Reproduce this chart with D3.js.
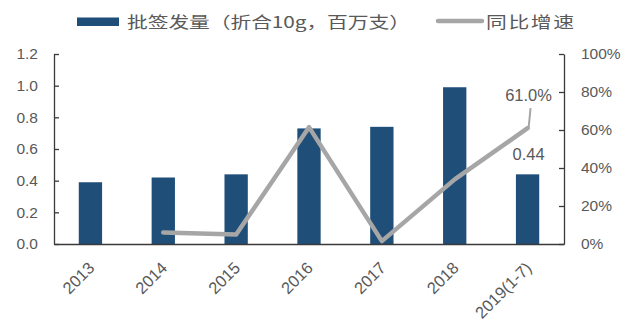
<!DOCTYPE html>
<html>
<head>
<meta charset="utf-8">
<script src="https://cdn.jsdelivr.net/npm/d3@7/dist/d3.min.js"></script>
<style>
  html, body { margin: 0; padding: 0; background: #fff; }
  svg { display: block; }
  .tick text { font-family: "Liberation Sans", Arial, sans-serif; }
</style>
</head>
<body>
<svg id="chart" width="626" height="321"></svg>
<script>
// Vaccine lot release volume (million doses, 10g equivalent) and YoY growth
const categories = ["2013", "2014", "2015", "2016", "2017", "2018", "2019(1-7)"];
const volume = [0.39, 0.42, 0.44, 0.73, 0.74, 0.99, 0.44];
const growth = [null, 0.06, 0.05, 0.615, 0.015, 0.34, 0.61];
const leftTicks = [0, 0.2, 0.4, 0.6, 0.8, 1.0, 1.2];
const rightTicks = [0, 0.2, 0.4, 0.6, 0.8, 1.0];
const seriesNames = ["批签发量（折合10g，百万支）", "同比增速"];

const barColor = "#1f4e79";
const lineColor = "#a6a6a6";
const textColor = "#595959";
const axisColor = "#3a3a3a";

const svg = d3.select("#chart");
const plot = { left: 54, right: 564, top: 54, bottom: 244 };

const x = d3.scaleBand()
  .domain(categories)
  .range([plot.left, plot.right])
  .paddingInner(0.68)
  .paddingOuter(0.34);

const yLeft = d3.scaleLinear().domain([0, 1.2]).range([plot.bottom, plot.top]);
const yRight = d3.scaleLinear().domain([0, 1.0]).range([plot.bottom, plot.top]);

// Bars
svg.append("g")
  .selectAll("rect")
  .data(categories)
  .join("rect")
  .attr("x", d => x(d))
  .attr("width", x.bandwidth())
  .attr("y", (d, i) => yLeft(volume[i]))
  .attr("height", (d, i) => yLeft(0) - yLeft(volume[i]))
  .attr("fill", barColor);

// Left axis
const leftAxis = svg.append("g")
  .attr("transform", `translate(${plot.left},0)`)
  .call(d3.axisLeft(yLeft).tickValues(leftTicks).tickFormat(d3.format(".1f"))
    .tickSizeInner(-5).tickSizeOuter(0).tickPadding(16));
leftAxis.select(".domain").attr("stroke", axisColor).attr("stroke-width", 1.3);
leftAxis.selectAll(".tick line").attr("stroke", axisColor).attr("stroke-width", 1.3);
leftAxis.selectAll(".tick text").attr("fill", textColor).attr("font-size", 15.5);

// Right axis
const rightAxis = svg.append("g")
  .attr("transform", `translate(${plot.right},0)`)
  .call(d3.axisRight(yRight).tickValues(rightTicks).tickFormat(d3.format(".0%"))
    .tickSizeInner(-5).tickSizeOuter(0).tickPadding(17));
rightAxis.select(".domain").attr("stroke", axisColor).attr("stroke-width", 1.3);
rightAxis.selectAll(".tick line").attr("stroke", axisColor).attr("stroke-width", 1.3);
rightAxis.selectAll(".tick text").attr("fill", textColor).attr("font-size", 15.5);

// Bottom axis with rotated category labels
const bottomAxis = svg.append("g")
  .attr("transform", `translate(0,${plot.bottom})`)
  .call(d3.axisBottom(x).tickSize(0).tickPadding(0));
bottomAxis.select(".domain").attr("stroke", axisColor).attr("stroke-width", 1.3);
bottomAxis.selectAll(".tick text")
  .attr("fill", textColor)
  .attr("font-size", 16.5)
  .attr("text-anchor", "end")
  .attr("dy", 0)
  .attr("y", 0)
  .attr("transform", "translate(5,25) rotate(-45)");

// Growth line
const cx = d => x(d) + x.bandwidth() / 2;
const lineData = categories.map((c, i) => ({ c, v: growth[i] })).filter(d => d.v !== null);
svg.append("path")
  .datum(lineData)
  .attr("fill", "none")
  .attr("stroke", lineColor)
  .attr("stroke-width", 4.5)
  .attr("stroke-linejoin", "round")
  .attr("stroke-linecap", "round")
  .attr("d", d3.line().x(d => cx(d.c)).y(d => yRight(d.v)));

// Data labels for the last period
const last = categories.length - 1;
const lx = cx(categories[last]);
const ly = yRight(growth[last]);
svg.append("line")
  .attr("x1", lx + 1).attr("y1", ly)
  .attr("x2", lx + 3).attr("y2", ly - 20)
  .attr("stroke", lineColor).attr("stroke-width", 2);
svg.append("text")
  .attr("x", lx + 1).attr("y", ly - 27)
  .attr("text-anchor", "middle")
  .attr("font-family", "Liberation Sans, Arial, sans-serif")
  .attr("font-size", 16.5)
  .attr("fill", textColor)
  .text(d3.format(".1%")(growth[last]));
svg.append("text")
  .attr("x", lx + 1).attr("y", yLeft(volume[last]) - 14)
  .attr("text-anchor", "middle")
  .attr("font-family", "Liberation Sans, Arial, sans-serif")
  .attr("font-size", 16.5)
  .attr("fill", textColor)
  .text(volume[last].toFixed(2));

// Legend (text widened horizontally)
const stretch = 1.3;
const legend = svg.append("g");
legend.append("rect")
  .attr("x", 77).attr("y", 17.5).attr("width", 42).attr("height", 8.5)
  .attr("fill", barColor);
legend.append("text")
  .attr("transform", `translate(127,28) scale(${stretch},1)`)
  .attr("font-family", "Noto Sans CJK SC, sans-serif")
  .attr("font-size", 16)
  .attr("fill", textColor)
  .attr("textLength", 283 / stretch)
  .attr("lengthAdjust", "spacing")
  .text(seriesNames[0]);
legend.append("line")
  .attr("x1", 438).attr("x2", 482).attr("y1", 21).attr("y2", 21)
  .attr("stroke", lineColor).attr("stroke-width", 4.5).attr("stroke-linecap", "round");
legend.append("text")
  .attr("transform", `translate(486,28) scale(${stretch},1)`)
  .attr("font-family", "Noto Sans CJK SC, sans-serif")
  .attr("font-size", 16)
  .attr("fill", textColor)
  .attr("textLength", 88 / stretch)
  .attr("lengthAdjust", "spacing")
  .text(seriesNames[1]);
</script>
</body>
</html>
